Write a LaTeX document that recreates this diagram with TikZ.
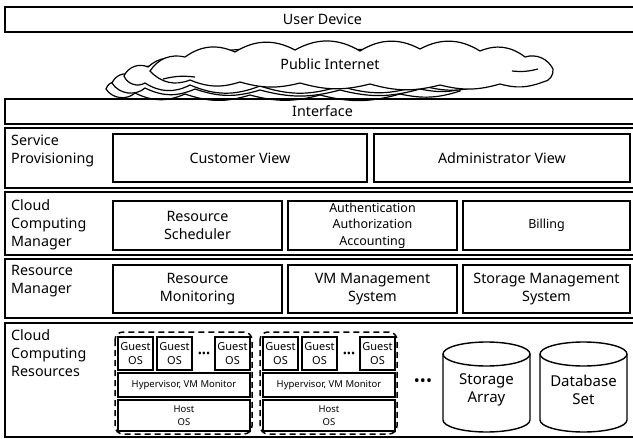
\documentclass[tikz,border=0pt]{standalone}
\usepackage{fontspec}
\setmainfont{Noto Sans}
\begin{document}
\begin{tikzpicture}[x=1pt,y=-1pt,
  frame/.style={draw,line width=1.5pt},
  box/.style={draw,line width=1.5pt,align=center,inner sep=0pt,
    font=\fontsize{14.3}{18}\selectfont},
  side/.style={anchor=north west,align=left,inner sep=0pt,
    font=\fontsize{14.3}{18}\selectfont},
  small/.style={box,font=\fontsize{12.5}{16.5}\selectfont},
  guest/.style={box,minimum width=35,minimum height=33,
    font=\fontsize{11}{14}\selectfont},
  tiny/.style={draw,line width=1.3pt,align=center,inner sep=0pt,
    font=\fontsize{9.5}{12.5}\selectfont},
  vmgroup/.style={draw,line width=1.5pt,dash pattern=on 6pt off 4pt,rounded corners=8pt},
  puff/.style={draw,fill=white,line width=1.2pt},
  dots/.style={inner sep=0pt,font=\fontsize{#1}{#1}\selectfont}]
\useasboundingbox (0,0) rectangle (633,439);

% access layers
\node[box,minimum width=635,minimum height=25] (ud) at (322.5,19.5) {User Device};

% internet cloud: three layers behind, main cloud in front
\draw[puff] (106,89) to[bend left=50] (124,82) to[bend left=40] (160,77)
  to[bend left=20] (260,76) to[bend left=20] (380,78) to[bend left=30] (455,84)
  to[bend left=40] (460,91) to[bend left=15] (400,94) to[bend left=15] (320,95)
  to[bend left=15] (250,95) to[bend left=18] (185,94) to[bend left=25] (135,93)
  to[bend left=50] cycle;
\draw[puff] (112,83) to[bend left=45] (132,75) to[bend left=40] (165,70)
  to[bend left=20] (260,69) to[bend left=20] (380,71) to[bend left=30] (465,77)
  to[bend left=40] (472,86) to[bend left=15] (420,89) to[bend left=15] (340,90)
  to[bend left=15] (260,90) to[bend left=18] (195,89) to[bend left=25] (145,88)
  to[bend left=50] cycle;
\draw[puff] (124,76) to[bend left=45] (148,67) to[bend left=35] (185,62)
  to[bend left=20] (300,60) to[bend left=20] (420,63) to[bend left=30] (495,71)
  to[bend left=40] (488,83) to[bend left=18] (420,85) to[bend left=18] (340,86)
  to[bend left=18] (260,86) to[bend left=22] (190,85) to[bend left=30] (145,83)
  to[bend left=50] cycle;
\draw[puff] (150,71) to[bend left=35] (185,57) to[bend left=30] (235,52)
  to[bend left=30] (295,50) to[bend left=30] (360,51) to[bend left=30] (420,49)
  to[bend left=30] (480,51) to[bend left=30] (525,57) to[bend left=40] (553,69)
  to[bend left=45] (543,82) to[bend left=18] (500,84) to[bend left=15] (440,85)
  to[bend left=15] (370,84) to[bend left=15] (300,83) to[bend left=15] (240,82)
  to[bend left=20] (190,80) to[bend left=35] cycle;
\draw[line width=1.2pt] (163,79) to[bend left=10] (195,77);
\draw[line width=1.2pt] (512,71) to[bend right=10] (538,69);
\node[inner sep=0pt,font=\fontsize{14.3}{18}\selectfont] (net) at (330,64) {Public Internet};

\node[box,minimum width=635,minimum height=25] (ifc) at (322.5,111.5) {Interface};

% service provisioning
\draw[frame] (5,128) rectangle (640,188);
\node[side] (spl) at (11,134.5) {Service\\Provisioning};
\node[box,minimum width=254,minimum height=48] (cv) at (240,158) {Customer View};
\node[box,minimum width=256,minimum height=48] (av) at (502,158) {Administrator View};

% cloud computing manager
\draw[frame] (5,192) rectangle (640,255);
\node[side] (ccml) at (11,199.5) {Cloud\\Computing\\Manager};
\node[box,minimum width=169,minimum height=49] (rs) at (197.5,225.5) {Resource\\Scheduler};
\node[small,minimum width=169,minimum height=49] (aaa) at (372.5,225.5) {Authentication\\Authorization\\Accounting};
\node[small,minimum width=167,minimum height=49] (bill) at (546.5,225.5) {Billing};

% resource manager
\draw[frame] (5,259) rectangle (640,318);
\node[side] (rml) at (11,265.5) {Resource\\Manager};
\node[box,minimum width=169,minimum height=48] (rmon) at (197.5,289) {Resource\\Monitoring};
\node[box,minimum width=169,minimum height=48] (vmm) at (372.5,289) {VM Management\\System};
\node[box,minimum width=167,minimum height=48] (smm) at (546.5,289) {Storage Management\\System};

% cloud computing resources
\draw[frame] (5,323) rectangle (640,437);
\node[side] (ccrl) at (11,329.5) {Cloud\\Computing\\Resources};

\foreach \g/\n in {0/a,145/b}{
  \draw[vmgroup] (115+\g,332) rectangle (252+\g,434);
  \node[guest] (g1\n) at (135.5+\g,353.5) {Guest\\OS};
  \node[guest] (g2\n) at (174.5+\g,353.5) {Guest\\OS};
  \node[guest] (g3\n) at (232.5+\g,353.5) {Guest\\OS};
  \node[dots=11] (gd\n) at (204+\g,355) {•••};
  \node[tiny,minimum width=132,minimum height=24] (hv\n) at (184+\g,385) {Hypervisor, VM Monitor};
  \node[tiny,minimum width=132,minimum height=31] (ho\n) at (184+\g,415.5) {Host\\OS};
}
\node[dots=16] (md) at (423,383) {•••};

% storage cylinders
\foreach \cx/\n/\t in {486.5/sa/Storage\\Array,583.5/db/Database\\Set}{
  \draw[line width=1.4pt] (\cx-43.5,354) -- (\cx-43.5,420)
    arc[start angle=180,end angle=0,x radius=43.5,y radius=12] -- (\cx+43.5,354);
  \draw[line width=1.4pt] (\cx,354) ellipse[x radius=43.5,y radius=12];
  \node[align=center,inner sep=0pt,font=\fontsize{15}{18}\selectfont] (\n) at (\cx,390) {\t};
}
\end{tikzpicture}
\end{document}
